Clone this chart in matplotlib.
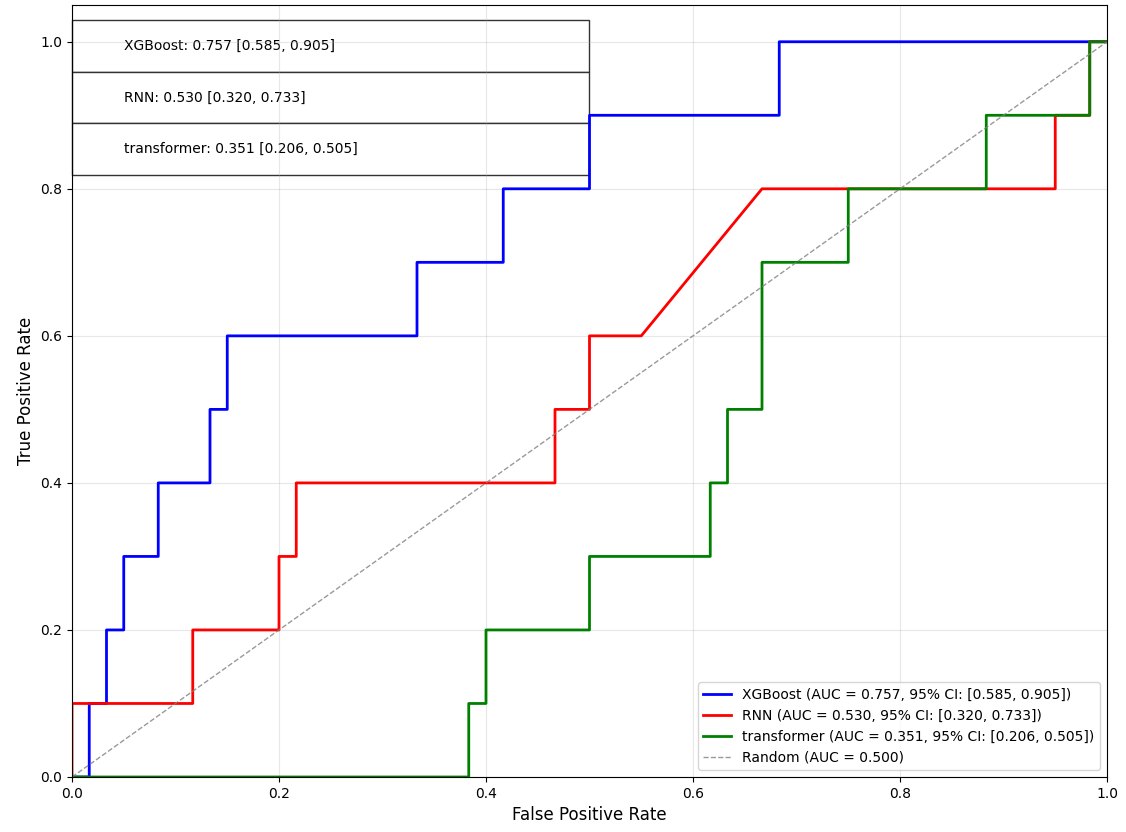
import numpy as np
import matplotlib
matplotlib.use('Agg')
import matplotlib.pyplot as plt

# ROC points (60 negatives, 10 positives)
xgb_fpr = [0, 1/60, 1/60, 2/60, 2/60, 3/60, 3/60, 5/60, 5/60, 8/60, 8/60, 9/60, 9/60,
           20/60, 20/60, 25/60, 25/60, 30/60, 30/60, 41/60, 41/60, 1.0]
xgb_tpr = [0, 0, 0.1, 0.1, 0.2, 0.2, 0.3, 0.3, 0.4, 0.4, 0.5, 0.5, 0.6,
           0.6, 0.7, 0.7, 0.8, 0.8, 0.9, 0.9, 1.0, 1.0]

rnn_fpr = [0, 0, 7/60, 7/60, 12/60, 12/60, 13/60, 13/60, 28/60, 28/60, 30/60, 30/60,
           33/60, 40/60, 57/60, 57/60, 59/60, 59/60, 1.0]
rnn_tpr = [0, 0.1, 0.1, 0.2, 0.2, 0.3, 0.3, 0.4, 0.4, 0.5, 0.5, 0.6,
           0.6, 0.8, 0.8, 0.9, 0.9, 1.0, 1.0]

trf_fpr = [0, 23/60, 23/60, 24/60, 24/60, 30/60, 30/60, 37/60, 37/60, 38/60, 38/60,
           40/60, 40/60, 45/60, 45/60, 53/60, 53/60, 59/60, 59/60, 1.0]
trf_tpr = [0, 0, 0.1, 0.1, 0.2, 0.2, 0.3, 0.3, 0.4, 0.4, 0.5,
           0.5, 0.7, 0.7, 0.8, 0.8, 0.9, 0.9, 1.0, 1.0]

models = ['XGBoost', 'RNN', 'transformer']
aucs = [0.757, 0.530, 0.351]
ci_low = [0.585, 0.320, 0.206]
ci_high = [0.905, 0.733, 0.505]
colors = ['blue', 'red', 'green']
curves = [(xgb_fpr, xgb_tpr), (rnn_fpr, rnn_tpr), (trf_fpr, trf_tpr)]

fig = plt.figure(figsize=(11.26, 8.32), dpi=100)
ax = fig.add_axes([72/1126, 1 - 777/832, 1035/1126, 772/832])

for name, (fpr, tpr), auc, lo, hi, c in zip(models, curves, aucs, ci_low, ci_high, colors):
    # no snapping, so overlapping segments sit exactly on top of each other
    ax.plot(fpr, tpr, color=c, lw=2, snap=False,
            label='{} (AUC = {:.3f}, 95% CI: [{:.3f}, {:.3f}])'.format(name, auc, lo, hi))

ax.plot([0, 1], [0, 1], color='gray', ls='--', lw=1, alpha=0.8, label='Random (AUC = 0.500)')

ax.set_xlim(0, 1)
ax.set_ylim(0, 1.05)
ax.set_xlabel('False Positive Rate', fontsize=12)
ax.set_ylabel('True Positive Rate', fontsize=12)
ax.grid(True, alpha=0.3)
ax.legend(loc='lower right', fontsize=10)

cell_text = [['{}: {:.3f} [{:.3f}, {:.3f}]'.format(m, a, l, h)]
             for m, a, l, h in zip(models, aucs, ci_low, ci_high)]
tbl = ax.table(cellText=cell_text, cellLoc='left', bbox=[0, 0.78, 0.5, 0.2])
tbl.auto_set_font_size(False)
tbl.set_fontsize(10)
for cell in tbl.get_celld().values():
    cell.set_edgecolor('#333333')

fig.savefig('out.png', dpi=100)
